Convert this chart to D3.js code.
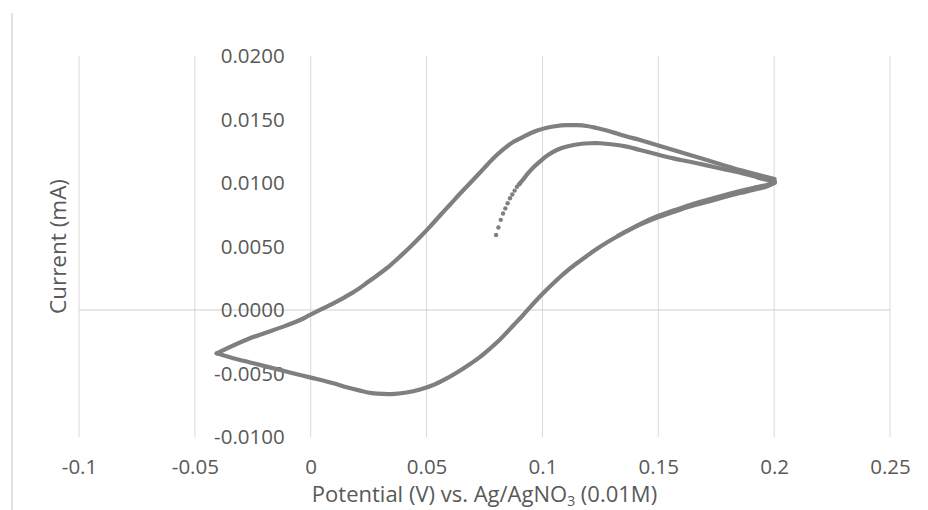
<!DOCTYPE html>
<html>
<head>
<meta charset="utf-8">
<script src="https://cdn.jsdelivr.net/npm/d3@7"></script>
<style>
  body { margin: 0; background: #fff; }
  text { font-family: "Open Sans", sans-serif; fill: #595959; }
</style>
</head>
<body>
<div id="chart"></div>
<script>
// tick values and labels
var xTicks = [-0.1, -0.05, 0, 0.05, 0.1, 0.15, 0.2, 0.25];
var xTickLabels = ["-0.1", "-0.05", "0", "0.05", "0.1", "0.15", "0.2", "0.25"];
var yTicks = [-0.01, -0.005, 0, 0.005, 0.01, 0.015, 0.02];
var yTickLabels = ["-0.0100", "-0.0050", "0.0000", "0.0050", "0.0100", "0.0150", "0.0200"];

// first forward scan, start points (shown as separate markers)
var startE = [0.080, 0.081, 0.082, 0.083, 0.084, 0.085, 0.086, 0.087, 0.088, 0.089, 0.090];
var startI = [0.0059, 0.0065, 0.0071, 0.0076, 0.0080, 0.0084, 0.0088, 0.0091, 0.0094, 0.0097, 0.0099];

// first forward scan, rest up to 0.2 V
var scan1E = [0.0900, 0.0918, 0.0939, 0.0964, 0.0990, 0.1024, 0.1062, 0.1110, 0.1162, 0.1205, 0.1249, 0.1305, 0.1364, 0.1421,
  0.1493, 0.1565, 0.1637, 0.1709, 0.1779, 0.1853, 0.1909, 0.1952, 0.2002];
var scan1I = [0.00992, 0.01031, 0.01079, 0.01128, 0.01171, 0.01220, 0.01260, 0.01289, 0.01307, 0.01313, 0.01313, 0.01303, 0.01286, 0.01260,
  0.01226, 0.01194, 0.01167, 0.01139, 0.01110, 0.01081, 0.01055, 0.01031, 0.01012];

// reverse scan 0.2 -> -0.04 V
var scan2E = [0.2003, 0.1968, 0.1909, 0.1853, 0.1779, 0.1709, 0.1637, 0.1565, 0.1493, 0.1421, 0.1378, 0.1326, 0.1278, 0.1234,
  0.1191, 0.1141, 0.1090, 0.1046, 0.1004, 0.0975, 0.0946, 0.0911, 0.0874, 0.0846, 0.0817, 0.0774, 0.0731, 0.0688, 0.0645,
  0.0587, 0.0529, 0.0472, 0.0414, 0.0364, 0.0313, 0.0263, 0.0213, 0.0155, 0.0098, 0.0026, -0.0046, -0.0118, -0.0190, -0.0262,
  -0.0334, -0.0406];
var scan2I = [0.01008, 0.00984, 0.00961, 0.00937, 0.00902, 0.00866, 0.00827, 0.00783, 0.00736, 0.00677, 0.00634, 0.00583, 0.00531, 0.00480,
  0.00425, 0.00358, 0.00283, 0.00209, 0.00134, 0.00079, 0.00021, -0.00051, -0.00122, -0.00177, -0.00232, -0.00303, -0.00369, -0.00425, -0.00476,
  -0.00539, -0.00591, -0.00626, -0.00650, -0.00660, -0.00661, -0.00654, -0.00635, -0.00609, -0.00577, -0.00543, -0.00512, -0.00479, -0.00446, -0.00413,
  -0.00380, -0.00341];

// second forward scan -0.04 -> 0.2 V
var scan3E = [-0.0406, -0.0262, -0.0118, -0.0046, -0.0003, 0.0049, 0.0098, 0.0148, 0.0199, 0.0247, 0.0299, 0.0342, 0.0385, 0.0429,
  0.0472, 0.0515, 0.0558, 0.0602, 0.0645, 0.0688, 0.0731, 0.0765, 0.0803, 0.0839, 0.0874, 0.0911, 0.0946, 0.0981, 0.1019,
  0.1062, 0.1105, 0.1148, 0.1191, 0.1234, 0.1278, 0.1321, 0.1364, 0.1421, 0.1493, 0.1565, 0.1637, 0.1709, 0.1779, 0.1853,
  0.1909, 0.1968, 0.2002];
var scan3I = [-0.00341, -0.00223, -0.00131, -0.00079, -0.00039, 0.00008, 0.00053, 0.00102, 0.00157, 0.00220, 0.00289, 0.00350, 0.00420, 0.00496,
  0.00575, 0.00657, 0.00744, 0.00831, 0.00917, 0.01000, 0.01083, 0.01150, 0.01220, 0.01276, 0.01323, 0.01358, 0.01390, 0.01415, 0.01435,
  0.01449, 0.01455, 0.01455, 0.01449, 0.01433, 0.01413, 0.01390, 0.01366, 0.01339, 0.01299, 0.01260, 0.01220, 0.01181, 0.01142, 0.01102,
  0.01075, 0.01047, 0.01031];

// second reverse scan (partial, lies along the first one)
var scan4E = [0.2002, 0.1968, 0.1909, 0.1853, 0.1779, 0.1709, 0.1637, 0.1565, 0.1493, 0.1421, 0.1378, 0.1326];
var scan4I = [0.01000, 0.00972, 0.00945, 0.00921, 0.00886, 0.00850, 0.00815, 0.00772, 0.00726, 0.00672, 0.00634, 0.00583];

var svgWidth = 928;
var svgHeight = 510;
var margin = { top: 56, right: 38, bottom: 73, left: 79 };
var width = svgWidth - margin.left - margin.right;
var height = svgHeight - margin.top - margin.bottom;

var svg = d3.select("#chart")
  .append("svg")
  .attr("width", svgWidth)
  .attr("height", svgHeight);

// chart area border (left edge visible)
svg.append("line")
  .attr("x1", 12).attr("x2", 12)
  .attr("y1", 13).attr("y2", svgHeight)
  .attr("stroke", "#d9d9d9")
  .attr("stroke-width", 1.5);

var chartGroup = svg.append("g")
  .attr("transform", `translate(${margin.left}, ${margin.top})`);

var xScale = d3.scaleLinear().domain([-0.1, 0.25]).range([0, width]);
var yScale = d3.scaleLinear().domain([-0.01, 0.02]).range([height, 0]);

// vertical gridlines
chartGroup.selectAll(".grid")
  .data(xTicks)
  .enter()
  .append("line")
  .attr("x1", d => xScale(d)).attr("x2", d => xScale(d))
  .attr("y1", 0).attr("y2", height)
  .attr("stroke", "#d9d9d9")
  .attr("stroke-width", 1);

// horizontal axis line at zero
chartGroup.append("line")
  .attr("x1", 0).attr("x2", width)
  .attr("y1", yScale(0)).attr("y2", yScale(0))
  .attr("stroke", "#d0d0d0")
  .attr("stroke-width", 1.2);

// axes
var bottomAxis = d3.axisBottom(xScale)
  .tickValues(xTicks)
  .tickFormat((d, i) => xTickLabels[i])
  .tickSize(0)
  .tickPadding(22);

var leftAxis = d3.axisLeft(yScale)
  .tickValues(yTicks)
  .tickFormat((d, i) => yTickLabels[i])
  .tickSize(0)
  .tickPadding(26);

var xAxisG = chartGroup.append("g")
  .attr("transform", `translate(0, ${height})`)
  .call(bottomAxis);

var yAxisG = chartGroup.append("g")
  .attr("transform", `translate(${xScale(0)}, 0)`)
  .call(leftAxis);

[xAxisG, yAxisG].forEach(g => {
  g.select(".domain").remove();
  g.selectAll("text")
    .style("font-family", "'Open Sans', sans-serif")
    .style("font-size", "20.5px")
    .attr("fill", "#595959");
});

// curves
var line = d3.line()
  .x(d => xScale(d[0]))
  .y(d => yScale(d[1]))
  .curve(d3.curveCatmullRom.alpha(0.5));

var scans = [
  scan1E.map((e, i) => [e, scan1I[i]]),
  scan2E.map((e, i) => [e, scan2I[i]]),
  scan3E.map((e, i) => [e, scan3I[i]]),
  scan4E.map((e, i) => [e, scan4I[i]])
];

chartGroup.selectAll(".scan")
  .data(scans)
  .enter()
  .append("path")
  .attr("d", line)
  .attr("fill", "none")
  .attr("stroke", "#7f7f7f")
  .attr("stroke-width", 4.2)
  .attr("stroke-linejoin", "round")
  .attr("stroke-linecap", "round");

// start markers
chartGroup.selectAll(".dot")
  .data(startE.map((e, i) => [e, startI[i]]))
  .enter()
  .append("circle")
  .attr("cx", d => xScale(d[0]))
  .attr("cy", d => yScale(d[1]))
  .attr("r", 2.2)
  .attr("fill", "#7f7f7f");

// axis titles
svg.append("text")
  .attr("transform", `translate(58, ${margin.top + height / 2}) rotate(-90)`)
  .attr("text-anchor", "middle")
  .attr("dy", "0.35em")
  .style("font-size", "22.5px")
  .text("Current (mA)");

var xTitle = svg.append("text")
  .attr("x", margin.left + width / 2)
  .attr("y", 502)
  .attr("text-anchor", "middle")
  .style("font-size", "22px");
xTitle.append("tspan").text("Potential (V) vs. Ag/AgNO");
xTitle.append("tspan").attr("dy", 4).style("font-size", "14px").text("3");
xTitle.append("tspan").attr("dy", -4).text(" (0.01M)");
</script>
</body>
</html>
